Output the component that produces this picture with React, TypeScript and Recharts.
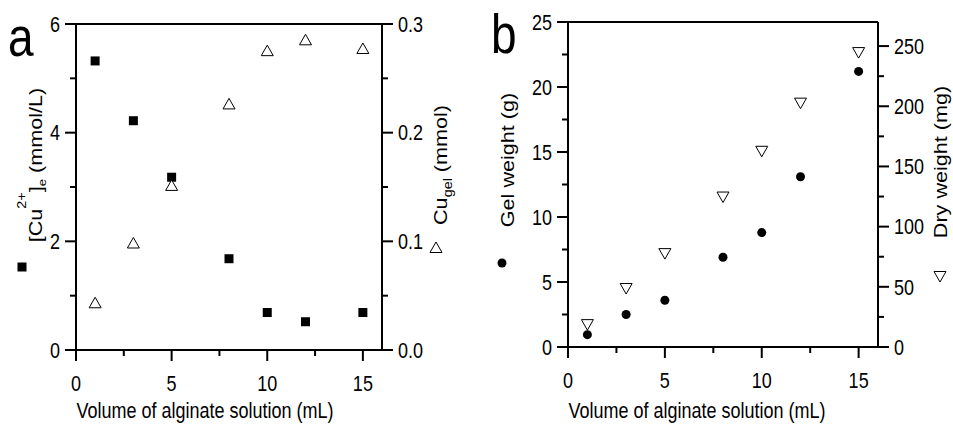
import { ScatterChart, Scatter, XAxis, YAxis, ReferenceLine } from 'recharts';

const FONT = '"Liberation Sans", Arial, Helvetica, sans-serif';
// the scanned figure is stretched vertically, so text gets a y-scale
const STRETCH = 1.2;

// volume of alginate solution (mL), same for both panels
const volumes = [1, 3, 5, 8, 10, 12, 15];

// panel a
const cuEquilibrium = [5.32, 4.22, 3.18, 1.68, 0.69, 0.52, 0.69]; // mmol/L (filled squares)
const cuInGel = [0.043, 0.098, 0.151, 0.226, 0.275, 0.285, 0.277]; // mmol (open triangles)

// panel b
const gelWeight = [0.95, 2.5, 3.6, 6.9, 8.8, 13.1, 21.2]; // g (filled dots)
const dryWeight = [19, 49, 78, 125, 163, 203, 245]; // mg (open down triangles)

// ticks: all positions, then the labelled (major) ones
const xTicks = [0, 2.5, 5, 7.5, 10, 12.5, 15];
const xMajor = [0, 5, 10, 15];
const aLeftTicks = [0, 1, 2, 3, 4, 5, 6];
const aLeftMajor = [0, 2, 4, 6];
const aRightTicks = [0, 0.05, 0.1, 0.15, 0.2, 0.25, 0.3];
const aRightMajor = [0, 0.1, 0.2, 0.3];
const bLeftTicks = [0, 2.5, 5, 7.5, 10, 12.5, 15, 17.5, 20, 22.5, 25];
const bLeftMajor = [0, 5, 10, 15, 20, 25];
const bRightTicks = [0, 25, 50, 75, 100, 125, 150, 175, 200, 225, 250];
const bRightMajor = [0, 50, 100, 150, 200, 250];

const pair = (ys: number[]) => volumes.map((x, i) => ({ x, y: ys[i] }));

const isMajor = (majors: number[], v: number) => majors.some((m) => Math.abs(m - v) < 1e-6);

function tickRenderer(side: 'left' | 'right' | 'bottom', majors: number[], fmt: (v: number) => string) {
  return (props: any) => {
    const { x, y, payload } = props;
    const v = payload.value;
    const major = isMajor(majors, v);
    const len = major ? 11 : 6;
    if (side === 'bottom') {
      return (
        <g>
          <line x1={x} y1={y} x2={x} y2={y + len} stroke="#000" strokeWidth={2} />
          {major && (
            <g transform={`translate(${x},${y + 33}) scale(1,${STRETCH})`}>
              <text textAnchor="middle" dy="0.36em" fontSize={18} fontFamily={FONT} fill="#000">
                {fmt(v)}
              </text>
            </g>
          )}
        </g>
      );
    }
    const dir = side === 'left' ? -1 : 1;
    return (
      <g>
        <line x1={x} y1={y} x2={x + dir * len} y2={y} stroke="#000" strokeWidth={2} />
        {major && (
          <g transform={`translate(${x + dir * 16},${y}) scale(1,${STRETCH})`}>
            <text
              textAnchor={side === 'left' ? 'end' : 'start'}
              dy="0.36em"
              fontSize={18}
              fontFamily={FONT}
              fill="#000"
            >
              {fmt(v)}
            </text>
          </g>
        )}
      </g>
    );
  };
}

const plain = (v: number) => String(v);
const oneDecimal = (v: number) => v.toFixed(1);

const Square = ({ cx, cy }: any) => <rect x={cx - 4.5} y={cy - 4.5} width={9} height={9} fill="#000" />;
const TriUp = ({ cx, cy }: any) => (
  <path d={`M${cx},${cy - 6} L${cx + 6},${cy + 4.5} L${cx - 6},${cy + 4.5} Z`} fill="#fff" stroke="#000" strokeWidth={1} />
);
const Dot = ({ cx, cy }: any) => <circle cx={cx} cy={cy} r={4.5} fill="#000" />;
const TriDown = ({ cx, cy }: any) => (
  <path d={`M${cx - 6},${cy - 4.5} L${cx + 6},${cy - 4.5} L${cx},${cy + 6} Z`} fill="#fff" stroke="#000" strokeWidth={1} />
);

const axisLine = { stroke: '#000', strokeWidth: 2 };

function PanelA() {
  return (
    <ScatterChart width={476} height={428} margin={{ top: 24, right: 0, bottom: 0, left: 0 }}>
      <XAxis
        type="number"
        dataKey="x"
        domain={[0, 16]}
        ticks={xTicks}
        interval={0}
        height={78}
        tickSize={0}
        tickMargin={0}
        tickLine={false}
        axisLine={axisLine}
        tick={tickRenderer('bottom', xMajor, plain)}
      />
      <YAxis
        yAxisId="left"
        type="number"
        dataKey="y"
        domain={[0, 6]}
        ticks={aLeftTicks}
        interval={0}
        width={76}
        tickSize={0}
        tickMargin={0}
        tickLine={false}
        axisLine={axisLine}
        tick={tickRenderer('left', aLeftMajor, plain)}
      />
      <YAxis
        yAxisId="right"
        orientation="right"
        type="number"
        dataKey="y"
        domain={[0, 0.3]}
        ticks={aRightTicks}
        interval={0}
        width={94}
        tickSize={0}
        tickMargin={0}
        tickLine={false}
        axisLine={axisLine}
        tick={tickRenderer('right', aRightMajor, oneDecimal)}
      />
      <ReferenceLine yAxisId="left" y={6} stroke="#000" strokeWidth={2} />
      <Scatter yAxisId="left" data={pair(cuEquilibrium)} shape={Square} isAnimationActive={false} />
      <Scatter yAxisId="right" data={pair(cuInGel)} shape={TriUp} isAnimationActive={false} />
    </ScatterChart>
  );
}

function PanelB() {
  return (
    <ScatterChart width={477} height={428} margin={{ top: 22, right: 0, bottom: 0, left: 0 }}>
      <XAxis
        type="number"
        dataKey="x"
        domain={[0, 16]}
        ticks={xTicks}
        interval={0}
        height={81}
        tickSize={0}
        tickMargin={0}
        tickLine={false}
        axisLine={axisLine}
        tick={tickRenderer('bottom', xMajor, plain)}
      />
      <YAxis
        yAxisId="left"
        type="number"
        dataKey="y"
        domain={[0, 25]}
        ticks={bLeftTicks}
        interval={0}
        width={92}
        tickSize={0}
        tickMargin={0}
        tickLine={false}
        axisLine={axisLine}
        tick={tickRenderer('left', bLeftMajor, plain)}
      />
      <YAxis
        yAxisId="right"
        orientation="right"
        type="number"
        dataKey="y"
        domain={[0, 270]}
        ticks={bRightTicks}
        interval={0}
        width={75}
        tickSize={0}
        tickMargin={0}
        tickLine={false}
        axisLine={axisLine}
        tick={tickRenderer('right', bRightMajor, plain)}
      />
      <ReferenceLine yAxisId="left" y={25} stroke="#000" strokeWidth={2} />
      <Scatter yAxisId="left" data={pair(gelWeight)} shape={Dot} isAnimationActive={false} />
      <Scatter yAxisId="right" data={pair(dryWeight)} shape={TriDown} isAnimationActive={false} />
    </ScatterChart>
  );
}

// rotated axis title; (cx, cy) is the centre, baseline sits at page x = cx
function VTitle({ cx, cy, children }: { cx: number; cy: number; children: any }) {
  return (
    <text
      transform={`translate(${cx},${cy}) rotate(-90) scale(${STRETCH},1)`}
      textAnchor="middle"
      fontSize={18}
      fontFamily={FONT}
      fill="#000"
    >
      {children}
    </text>
  );
}

function Overlay() {
  return (
    <svg width={953} height={428} style={{ position: 'absolute', left: 0, top: 0, pointerEvents: 'none' }}>
      {/* panel letters */}
      <text transform={`translate(8,56) scale(1,${STRETCH})`} fontSize={46} fontFamily={FONT} fill="#000">
        a
      </text>
      <text transform={`translate(491,53) scale(1,${STRETCH})`} fontSize={46} fontFamily={FONT} fill="#000">
        b
      </text>

      {/* panel a titles */}
      <VTitle cx={42} cy={165}>
        [Cu
        <tspan dy={-16} fontSize={12}>2+</tspan>
        <tspan dy={16}>]</tspan>
        <tspan dy={4} fontSize={11}>e</tspan>
        <tspan dy={-4}> (mmol/L)</tspan>
      </VTitle>
      <Square cx={22} cy={267} />
      <VTitle cx={447} cy={165}>
        Cu
        <tspan dy={5} fontSize={12}>gel</tspan>
        <tspan dy={-5}> (mmol)</tspan>
      </VTitle>
      <TriUp cx={436} cy={248} />

      {/* panel b titles */}
      <VTitle cx={514} cy={160}>Gel weight (g)</VTitle>
      <Dot cx={502} cy={263} />
      <VTitle cx={947} cy={162}>Dry weight (mg)</VTitle>
      <TriDown cx={940} cy={276} />

      {/* x titles */}
      <g transform={`translate(205,418) scale(1,${STRETCH})`}>
        <text textAnchor="middle" fontSize={18} fontFamily={FONT} fill="#000">
          Volume of alginate solution (mL)
        </text>
      </g>
      <g transform={`translate(697,418) scale(1,${STRETCH})`}>
        <text textAnchor="middle" fontSize={18} fontFamily={FONT} fill="#000">
          Volume of alginate solution (mL)
        </text>
      </g>
    </svg>
  );
}

export default function App() {
  return (
    <div style={{ position: 'absolute', left: 0, top: 0, width: 953, height: 428, background: '#fff' }}>
      <div style={{ position: 'absolute', left: 0, top: 0 }}>
        <PanelA />
      </div>
      <div style={{ position: 'absolute', left: 476, top: 0 }}>
        <PanelB />
      </div>
      <Overlay />
    </div>
  );
}
